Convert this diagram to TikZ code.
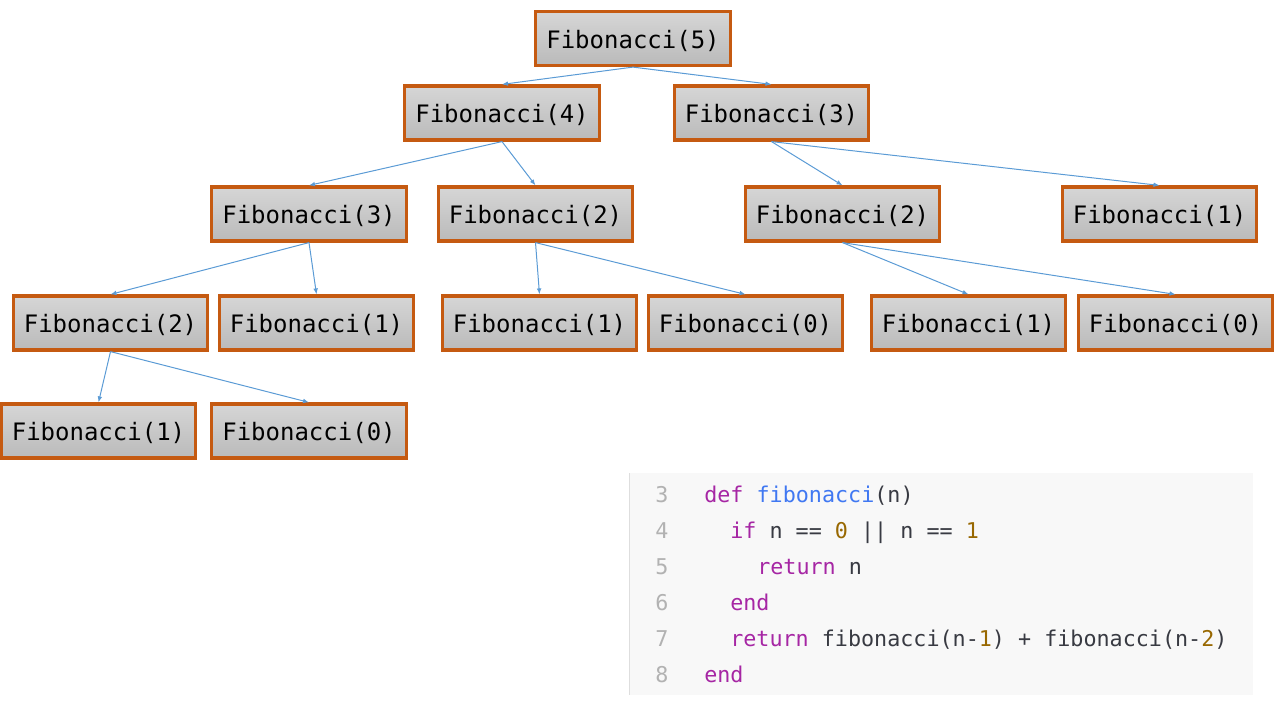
\documentclass[tikz,border=0pt]{standalone}
\usepackage{xcolor}
\usepackage{fontspec}
\usetikzlibrary{arrows.meta}
\newfontfamily\monofont{DejaVu Sans Mono}

\definecolor{callorange}{RGB}{197,90,17}
\definecolor{calltop}{RGB}{214,214,214}
\definecolor{callbottom}{RGB}{186,186,186}
\definecolor{callblue}{RGB}{91,155,213}
\definecolor{codebg}{RGB}{248,248,248}
\definecolor{codeedge}{RGB}{222,222,222}
\definecolor{codetext}{RGB}{56,58,66}
\definecolor{codenum}{RGB}{178,178,178}
\definecolor{codekw}{RGB}{166,38,164}
\definecolor{codefn}{RGB}{64,120,242}
\definecolor{codeint}{RGB}{152,104,1}

\begin{document}
\begin{tikzpicture}[x=0.75pt,y=0.75pt,yscale=-1,xscale=1,
  call/.style={draw=callorange, line width=2.4pt, top color=calltop, bottom color=callbottom, minimum width=146pt, minimum height=40.5pt, inner sep=0pt, text height=16.5pt, text depth=2.2pt, font=\monofont\fontsize{18}{22}\selectfont},
  recurse/.style={draw=callblue, line width=0.75pt, -{Latex[length=4.5pt,width=3.5pt]}},
  codeline/.style={anchor=base west, inner sep=0pt, font=\monofont\fontsize{16.3}{20}\selectfont, text=codetext},
  lineno/.style={codeline, text=codenum}]
\useasboundingbox (0,0) rectangle (1280,720);

%Shape: Rectangle (code panel)
\fill [codebg] (629,473) rectangle (1253,695) ;
\draw [codeedge, line width=0.75pt] (629.5,473) -- (629.5,695) ;

%Shape: Rectangle
\node [call] (f5) at (633,38.5) {Fibonacci(5)};
%Shape: Rectangle
\node [call] (f4) at (502,113) {Fibonacci(4)};
%Shape: Rectangle
\node [call] (f3a) at (771.5,113) {Fibonacci(3)};
%Shape: Rectangle
\node [call] (f3b) at (309,214) {Fibonacci(3)};
%Shape: Rectangle
\node [call] (f2a) at (535.5,214) {Fibonacci(2)};
%Shape: Rectangle
\node [call] (f2b) at (842.5,214) {Fibonacci(2)};
%Shape: Rectangle
\node [call] (f1a) at (1159.5,214) {Fibonacci(1)};
%Shape: Rectangle
\node [call] (f2c) at (110.5,323) {Fibonacci(2)};
%Shape: Rectangle
\node [call] (f1b) at (316.5,323) {Fibonacci(1)};
%Shape: Rectangle
\node [call] (f1c) at (539.5,323) {Fibonacci(1)};
%Shape: Rectangle
\node [call] (f0a) at (745.5,323) {Fibonacci(0)};
%Shape: Rectangle
\node [call] (f1d) at (968.5,323) {Fibonacci(1)};
%Shape: Rectangle
\node [call] (f0b) at (1175.5,323) {Fibonacci(0)};
%Shape: Rectangle
\node [call] (f1e) at (98.5,431) {Fibonacci(1)};
%Shape: Rectangle
\node [call] (f0c) at (309,431) {Fibonacci(0)};

%Straight Lines
\draw [recurse] (f5.south) -- (f4.north) ;
\draw [recurse] (f5.south) -- (f3a.north) ;
%Straight Lines
\draw [recurse] (f4.south) -- (f3b.north) ;
\draw [recurse] (f4.south) -- (f2a.north) ;
%Straight Lines
\draw [recurse] (f3a.south) -- (f2b.north) ;
\draw [recurse] (f3a.south) -- (f1a.north) ;
%Straight Lines
\draw [recurse] (f3b.south) -- (f2c.north) ;
\draw [recurse] (f3b.south) -- (f1b.north) ;
%Straight Lines
\draw [recurse] (f2a.south) -- (f1c.north) ;
\draw [recurse] (f2a.south) -- (f0a.north) ;
%Straight Lines
\draw [recurse] (f2b.south) -- (f1d.north) ;
\draw [recurse] (f2b.south) -- (f0b.north) ;
%Straight Lines
\draw [recurse] (f2c.south) -- (f1e.north) ;
\draw [recurse] (f2c.south) -- (f0c.north) ;

% Text Node
\node [lineno] (n3) at (655,502) {3};
\node [codeline] (c3) at (704,502) {\textcolor{codekw}{def} \textcolor{codefn}{fibonacci}(n)};
% Text Node
\node [lineno] (n4) at (655,538) {4};
\node [codeline] (c4) at (730,538) {\textcolor{codekw}{if} n == \textcolor{codeint}{0} || n == \textcolor{codeint}{1}};
% Text Node
\node [lineno] (n5) at (655,574) {5};
\node [codeline] (c5) at (757,574) {\textcolor{codekw}{return} n};
% Text Node
\node [lineno] (n6) at (655,610) {6};
\node [codeline] (c6) at (730,610) {\textcolor{codekw}{end}};
% Text Node
\node [lineno] (n7) at (655,646) {7};
\node [codeline] (c7) at (730,646) {\textcolor{codekw}{return} fibonacci(n-\textcolor{codeint}{1}) + fibonacci(n-\textcolor{codeint}{2})};
% Text Node
\node [lineno] (n8) at (655,682) {8};
\node [codeline] (c8) at (704,682) {\textcolor{codekw}{end}};

\end{tikzpicture}
\end{document}
